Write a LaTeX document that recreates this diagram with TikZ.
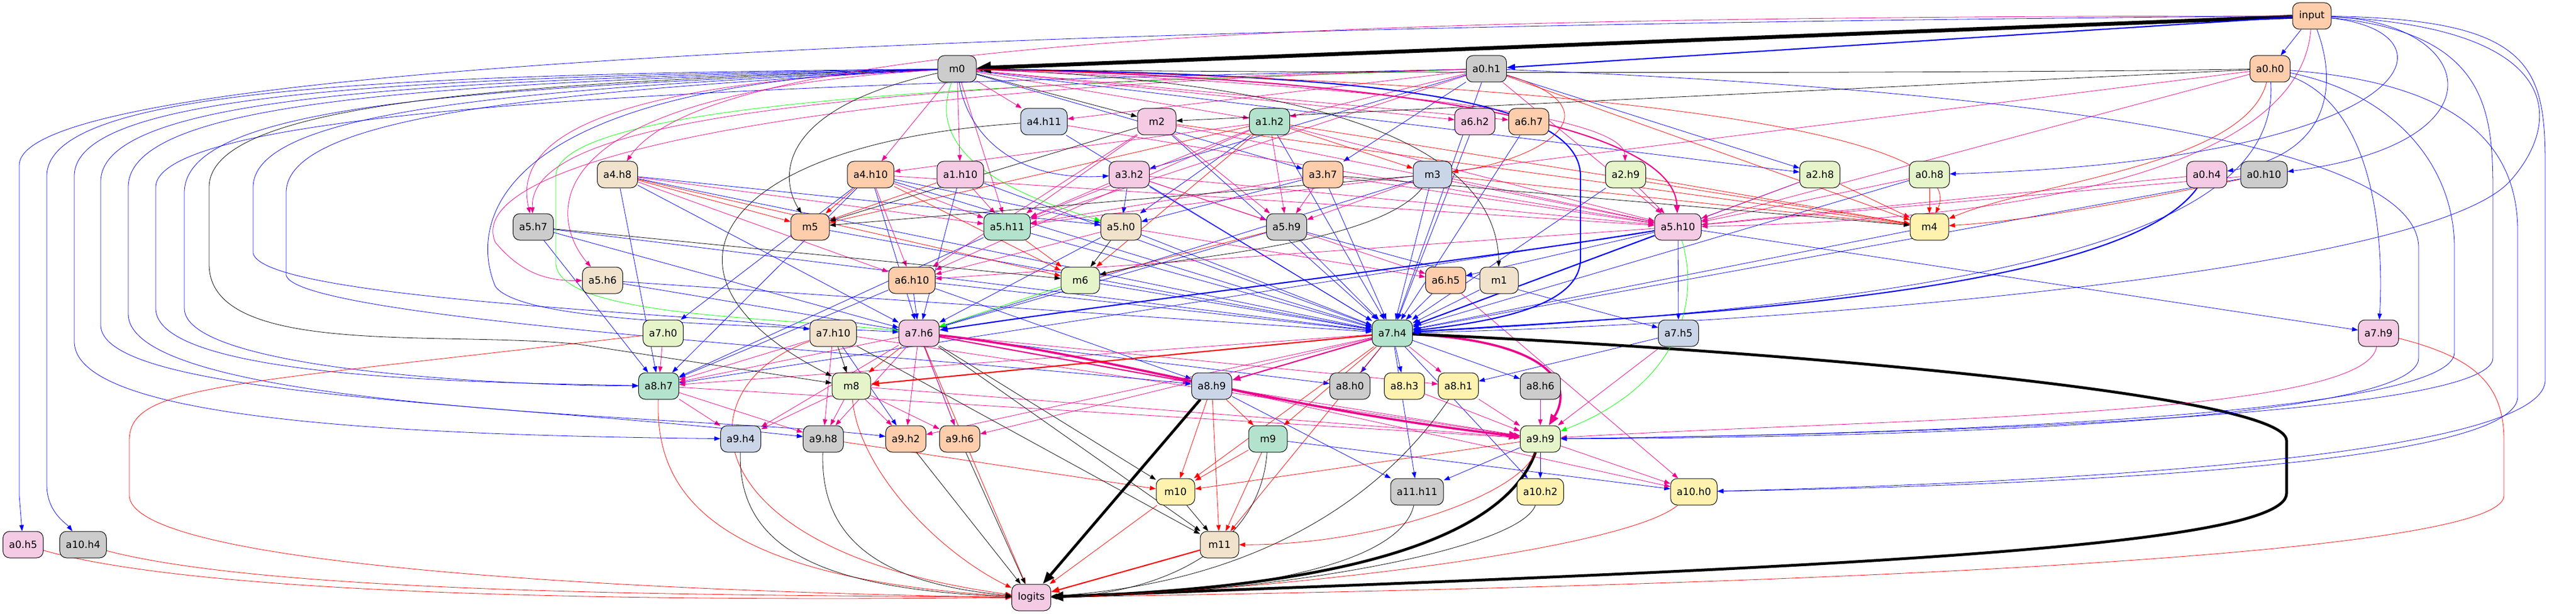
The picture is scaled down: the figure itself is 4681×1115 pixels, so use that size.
\documentclass[tikz,border=0pt]{standalone}
\usepackage{fontspec}
\setmainfont{DejaVu Sans}
\usetikzlibrary{arrows.meta}
\pgfdeclarelayer{bg}
\pgfsetlayers{bg,main}
\definecolor{fgray}{HTML}{CCCCCC}
\definecolor{fpeach}{HTML}{FDCDAC}
\definecolor{fpink}{HTML}{F4CAE4}
\definecolor{fmint}{HTML}{B3E2CD}
\definecolor{fblue}{HTML}{CBD5E8}
\definecolor{flime}{HTML}{E6F5C9}
\definecolor{fbeige}{HTML}{F1E2CC}
\definecolor{fyel}{HTML}{FFF2AE}
\definecolor{lgreen}{HTML}{00FF00}
\begin{document}
\begin{tikzpicture}[x=1pt,y=-1pt,
  nd/.style={draw=black, line width=1pt, rounded corners=12pt, minimum width=70pt, minimum height=48pt, inner xsep=11pt, inner ysep=0pt, font=\fontsize{18}{20}\selectfont},
  ar/.style={-{Triangle[length=11pt,width=8pt]}, line width=0.8pt},
  eB/.style={ar, blue},
  eM/.style={ar, magenta},
  eR/.style={ar, red},
  eK/.style={ar, black},
  eG/.style={ar, lgreen},
  w2/.style={line width=2.2pt, -{Triangle[length=15pt,width=11pt]}},
  w3m/.style={line width=4pt, -{Triangle[length=20pt,width=15pt]}},
  w3/.style={line width=5pt, -{Triangle[length=22pt,width=16pt]}},
  w4/.style={line width=7pt, -{Triangle[length=26pt,width=20pt]}}]
\useasboundingbox (0,0) rectangle (4681,1115);
% ---------- nodes ----------
\node[nd,fill=fpeach] (input) at (4201,29) {input};
\node[nd,fill=fgray] (m0) at (1739,125) {m0};
\node[nd,fill=fgray] (a0h1) at (2701,125) {a0.h1};
\node[nd,fill=fpeach] (a0h0) at (4125,125) {a0.h0};
\node[nd,fill=fblue] (a4h11) at (1897,221) {a4.h11};
\node[nd,fill=fpink] (m2) at (2102,221) {m2};
\node[nd,fill=fmint] (a1h2) at (2307,221) {a1.h2};
\node[nd,fill=fpink] (a6h2) at (2680,221) {a6.h2};
\node[nd,fill=fpeach] (a6h7) at (2778,221) {a6.h7};
\node[nd,fill=fbeige] (a4h8) at (1122,317) {a4.h8};
\node[nd,fill=fpeach] (a4h10) at (1582,317) {a4.h10};
\node[nd,fill=fpink] (a1h10) at (1745,317) {a1.h10};
\node[nd,fill=fpink] (a3h2) at (2052,317) {a3.h2};
\node[nd,fill=fpeach] (a3h7) at (2404,317) {a3.h7};
\node[nd,fill=fblue] (m3) at (2603,317) {m3};
\node[nd,fill=flime] (a2h9) at (2954,317) {a2.h9};
\node[nd,fill=flime] (a2h8) at (3307,317) {a2.h8};
\node[nd,fill=flime] (a0h8) at (3506,317) {a0.h8};
\node[nd,fill=fpink] (a0h4) at (4010,317) {a0.h4};
\node[nd,fill=fgray] (a0h10) at (4114,317) {a0.h10};
\node[nd,fill=fgray] (a5h7) at (969,412) {a5.h7};
\node[nd,fill=fpeach] (m5) at (1472,412) {m5};
\node[nd,fill=fmint] (a5h11) at (1830,412) {a5.h11};
\node[nd,fill=fbeige] (a5h0) at (2037,412) {a5.h0};
\node[nd,fill=fgray] (a5h9) at (2338,412) {a5.h9};
\node[nd,fill=fpink] (a5h10) at (3049,412) {a5.h10};
\node[nd,fill=fyel] (m4) at (3506,412) {m4};
\node[nd,fill=fbeige] (a5h6) at (1095,509) {a5.h6};
\node[nd,fill=fpeach] (a6h10) at (1657,509) {a6.h10};
\node[nd,fill=flime] (m6) at (1963,509) {m6};
\node[nd,fill=fpeach] (a6h5) at (2627,509) {a6.h5};
\node[nd,fill=fbeige] (m1) at (2724,509) {m1};
\node[nd,fill=flime] (a7h0) at (1205,605) {a7.h0};
\node[nd,fill=fbeige] (a7h10) at (1514,605) {a7.h10};
\node[nd,fill=fpink] (a7h6) at (1670,605) {a7.h6};
\node[nd,fill=fmint] (a7h4) at (2530,605) {a7.h4};
\node[nd,fill=fblue] (a7h5) at (3050,605) {a7.h5};
\node[nd,fill=fpink] (a7h9) at (4322,605) {a7.h9};
\node[nd,fill=fmint] (a8h7) at (1197,701) {a8.h7};
\node[nd,fill=flime] (m8) at (1547,701) {m8};
\node[nd,fill=fblue] (a8h9) at (2202,701) {a8.h9};
\node[nd,fill=fgray] (a8h0) at (2453,701) {a8.h0};
\node[nd,fill=fyel] (a8h3) at (2552,701) {a8.h3};
\node[nd,fill=fyel] (a8h1) at (2650,701) {a8.h1};
\node[nd,fill=fgray] (a8h6) at (2799,701) {a8.h6};
\node[nd,fill=fblue] (a9h4) at (1346,797) {a9.h4};
\node[nd,fill=fgray] (a9h8) at (1496,797) {a9.h8};
\node[nd,fill=fpeach] (a9h2) at (1646,797) {a9.h2};
\node[nd,fill=fpeach] (a9h6) at (1744,797) {a9.h6};
\node[nd,fill=fmint] (m9) at (2304,797) {m9};
\node[nd,fill=flime] (a9h9) at (2799,797) {a9.h9};
\node[nd,fill=fyel] (m10) at (2136,893) {m10};
\node[nd,fill=fgray] (a11h11) at (2575,893) {a11.h11};
\node[nd,fill=fyel] (a10h2) at (2799,893) {a10.h2};
\node[nd,fill=fyel] (a10h0) at (3078,893) {a10.h0};
\node[nd,fill=fpink] (a0h5) at (42,989) {a0.h5};
\node[nd,fill=fgray] (a10h4) at (151,989) {a10.h4};
\node[nd,fill=fbeige] (m11) at (2216,989) {m11};
\node[nd,fill=fpink] (logits) at (1874,1085) {logits};
% ---------- edges ----------
\begin{pgfonlayer}{bg}
\fill[white] (0,0) rectangle (4681,1115);
% blue straight
\foreach \sa/\ta in {input/a0h0, a0h1/a3h7, a0h1/a2h8, m0/a3h7, a0h1/a3h2, m0/a2h8,
  a4h8/a5h0, a4h10/a5h0, a3h2/a5h0, a1h2/a5h0, a3h7/a5h0,
  a5h10/a6h5, a4h10/a7h0,
  a4h8/a7h6, a5h7/a7h6, a5h6/a7h6, a4h10/a7h6, a6h10/a7h6, a5h0/a7h6, m3/a7h6, a5h9/a7h6, a1h10/a7h6,
  a0h1/a7h4, a3h2/a7h4, a3h7/a7h4, m3/a7h4, a5h9/a7h4, a5h0/a7h4, a6h5/a7h4, m1/a7h4, a2h9/a7h4,
  a2h8/a7h4, a0h8/a7h4, m4/a7h4, a0h10/a7h4, a6h2/a7h4, a6h7/a7h4, a1h2/a7h4, a4h11/a7h4,
  a5h11/a7h4, a4h10/a7h4, m6/a7h4, a6h10/a7h4, m2/a7h4, a1h10/a7h4, a4h8/a7h4, m5/a7h4,
  a5h6/a7h4, a5h7/a7h4,
  a5h10/a7h5, a5h9/a7h5, a5h10/a7h9,
  a4h8/a8h7, a5h7/a8h7, a4h10/a8h7, a5h11/a8h7, a6h10/a8h7, a5h10/a8h7,
  a6h10/a8h9, a7h6/a8h0, a7h4/a8h0, a7h4/a8h3, a7h5/a8h1, a7h4/a8h6,
  a7h10/a9h2, a7h6/a9h6,
  a7h4/a11h11, a8h9/a11h11, a9h9/a11h11, a9h9/a10h2, a7h4/a10h2, m9/a10h0}
  {\draw[eB] (\sa) -- (\ta);}
% magenta straight
\foreach \sa/\ta in {m0/a4h11, a0h1/a4h11, m0/a1h2, a0h1/a1h2, m0/a6h2, m0/a6h7, m0/a4h10, a1h2/a4h10, m0/a1h10,
  m0/a5h11, a0h1/a5h11, a1h2/a5h11, m2/a5h11, a3h2/a5h11, a3h7/a5h11, a4h10/a5h11, a1h10/a5h11, a0h0/a5h11, a4h8/a5h11,
  a3h2/a5h9, a1h2/a5h9, a3h7/a5h9, m2/a5h9, m3/a5h9,
  a0h1/a5h10, a0h0/a5h10, a2h9/a5h10, a2h8/a5h10, a0h8/a5h10, a0h4/a5h10, a0h10/a5h10, a3h2/a5h10,
  a1h2/a5h10, m3/a5h10, a3h7/a5h10, m2/a5h10, a4h10/a5h10, a4h11/a5h10,
  a4h10/a6h10, a4h8/a6h10, a5h0/a6h10, a5h10/a6h10, m2/a6h10, a1h2/a6h10,
  a5h0/a6h5, a3h2/a6h5,
  a7h0/a8h7, a7h6/a8h7, a7h10/a8h7, a7h4/a8h7,
  a7h6/a8h1, a7h4/a8h1,
  a8h7/a9h4, m8/a9h4, a7h6/a9h4,
  a8h7/a9h8, m8/a9h8, a7h6/a9h8, a7h10/a9h8,
  m8/a9h2, a7h6/a9h2, a7h4/a9h2,
  a7h6/a9h6, m8/a9h6, a7h4/a9h6,
  a8h9/a9h9, m8/a9h9, a8h7/a9h9, a8h1/a9h9, a8h3/a9h9, a8h6/a9h9, a7h5/a9h9, a7h10/a9h9,
  a9h9/a10h0, a8h9/a10h0, a6h5/a10h0}
  {\draw[eM] (\sa) -- (\ta);}
% red straight
\foreach \sa/\ta in {a1h2/m3, a2h8/m4, a0h8/m4, a1h2/m4, m3/m4, m2/m4, a2h9/m4, a0h1/m4,
  a4h8/m5, a4h10/m5, a1h10/m5, a1h2/m5,
  a4h10/m6, a5h11/m6, a1h2/m6, a5h9/m6, a4h8/m6,
  a7h6/m8, a8h9/m9, a7h4/m9,
  a8h9/m10, m9/m10, a9h9/m10, a9h8/m10, a7h4/m10,
  a8h9/m11, m9/m11, a7h4/m11, a7h6/logits}
  {\draw[eR] (\sa) -- (\ta);}
% black straight
\foreach \sa/\ta in {m0/m2, a0h0/m2, m2/m5, m3/m5, a3h7/m4, a5h0/m6, a5h7/m6,
  a7h10/m8, a7h6/m10, m10/m11, a7h6/m11, a7h10/m11, a9h2/logits, a9h6/logits}
  {\draw[eK] (\sa) -- (\ta);}
% heavy edges
\draw[eK,w4] (input) -- (m0);
\draw[eB,w2] (input) -- (a0h1);
\draw[eB,w2] (m0) .. controls (2450,135) and (2872,170) .. (2872,320) -- (2872,470) .. controls (2872,560) and (2700,585) .. (a7h4);
\draw[eB,w2] (a5h10) -- (a7h4);
\draw[eB,w2] (a5h10) .. controls (2700,470) and (2100,540) .. (a7h6);
\draw[eB,w2] (a0h4) .. controls (3850,540) and (3000,575) .. (a7h4);
\draw[eM,w3m] (a7h6) .. controls (2000,640) and (2300,740) .. (a9h9);
\draw[eM,w3m] (a7h4) .. controls (2820,620) and (2860,700) .. (a9h9);
\draw[eM,w2] (a7h6) -- (a8h9);
\draw[eM,w2] (a7h4) -- (a8h9);
\draw[eM,w2] (m0) .. controls (2500,140) and (3040,220) .. (a5h10);
\draw[eK,w3] (a7h4) .. controls (3300,640) and (4155,720) .. (4155,800) -- (4155,896) .. controls (4155,1000) and (3200,1035) .. (logits);
\draw[eK,w3] (a8h9) -- (logits);
\draw[eK,w3] (a9h9) .. controls (2740,960) and (2500,1065) .. (logits);
\draw[eR,w2] (m11) -- (logits);
\draw[eR,w2] (a7h4) -- (m8);
% left-side routes
\draw[eB] (input) .. controls (2000,45) and (35,110) .. (35,300) -- (35,900) -- (a0h5);
\draw[eB] (m0) .. controls (700,135) and (85,160) .. (85,320) -- (85,880) .. controls (85,930) and (120,950) .. (a10h4);
\draw[eB] (m0) .. controls (700,140) and (135,170) .. (135,320) -- (135,620) .. controls (135,760) and (700,790) .. (a9h4);
\draw[eB] (m0) .. controls (750,145) and (183,175) .. (183,330) -- (183,590) .. controls (183,720) and (900,730) .. (a9h8);
\draw[eB] (m0) .. controls (800,150) and (233,180) .. (233,340) -- (233,570) .. controls (233,750) and (1300,755) .. (a9h2);
\draw[eB] (a0h1) .. controls (1500,150) and (283,185) .. (283,340) -- (283,560) .. controls (283,690) and (900,695) .. (a8h7);
\draw[eB] (m0) .. controls (850,160) and (335,190) .. (335,350) -- (335,560) .. controls (335,670) and (900,700) .. (a8h7);
\draw[eK] (m0) .. controls (900,150) and (380,190) .. (380,340) -- (380,480) .. controls (380,650) and (800,600) .. (1050,625) -- (m8);
\draw[eB] (m0) .. controls (950,160) and (460,200) .. (460,340) -- (460,460) .. controls (480,545) and (1300,570) .. (a7h10);
\draw[eB] (m0) .. controls (1000,165) and (520,210) .. (520,350) -- (520,500) .. controls (540,580) and (1600,640) .. (a8h9);
\draw[eG] (a0h1) .. controls (2000,150) and (1010,170) .. (1010,320) -- (1010,480) .. controls (1020,575) and (1400,575) .. (a7h6);
\draw[eM] (m0) .. controls (1100,150) and (930,250) .. (a5h7);
\draw[eM] (a0h1) .. controls (1500,155) and (960,220) .. (a5h7);
\draw[eM] (m0) .. controls (950,170) and (1000,400) .. (a5h6);
\draw[eM] (a0h1) .. controls (1400,160) and (840,300) .. (900,440) .. controls (950,500) and (1000,510) .. (a5h6);
\draw[eB] (m0) .. controls (900,150) and (850,400) .. (900,520) .. controls (950,590) and (1400,590) .. (a7h6);
\draw[eM] (input) .. controls (2500,30) and (1300,60) .. (a4h8);
\draw[eB] (m0) .. controls (1760,250) and (1850,330) .. (a3h2);
\draw[eG] (m0) .. controls (1670,300) and (1900,370) .. (a5h0);
\draw[eK] (m0) .. controls (1400,200) and (1420,330) .. (m5);
\draw[eK] (a4h11) .. controls (1300,260) and (1150,500) .. (m8);
% other curves
\draw[eK] (a0h0) .. controls (3500,135) and (2200,132) .. (m0);
\draw[eK] (m0) .. controls (2500,150) and (2720,300) .. (m1);
\draw[eK] (m3) .. controls (2500,450) and (2100,470) .. (m6);
\draw[eM] (m0) .. controls (2400,150) and (2950,200) .. (a2h9);
\draw[eM] (input) .. controls (4180,300) and (3700,400) .. (a5h10);
\draw[eR] (a0h1) .. controls (2950,200) and (2800,290) .. (m3);
\draw[eR] (a0h10) .. controls (3900,360) and (3700,400) .. (m4);
\draw[eR] (a0h0) .. controls (4080,300) and (3700,330) .. (m4);
\draw[eR] (m0) .. controls (3000,150) and (3580,250) .. (m4);
\draw[eR] (a9h9) .. controls (2760,900) and (2500,990) .. (m11);
\draw[eM] (a7h9) .. controls (4300,760) and (3400,760) .. (a9h9);
\draw[eG] (m6) -- (a7h6);
\draw[eG] (a5h10) .. controls (3090,550) and (3050,700) .. (a9h9);
% right-side routes
\draw[eB] (input) .. controls (4250,160) and (4230,280) .. (a0h4);
\draw[eB] (input) .. controls (4500,40) and (4560,260) .. (a0h10);
\draw[eB] (input) .. controls (4480,60) and (4400,290) .. (a0h8);
\draw[eB] (input) .. controls (4600,35) and (4625,120) .. (4625,300) -- (4625,690) .. controls (4625,840) and (3600,880) .. (a10h0);
\draw[eB] (a0h0) .. controls (4450,150) and (4575,250) .. (4575,420) -- (4575,720) .. controls (4575,860) and (3500,885) .. (a10h0);
\draw[eB] (input) .. controls (4520,60) and (4530,200) .. (4530,350) -- (4530,650) .. controls (4530,760) and (3400,790) .. (a9h9);
\draw[eB] (a0h0) .. controls (4350,170) and (4460,300) .. (4460,450) -- (4460,640) .. controls (4460,760) and (3400,790) .. (a9h9);
\draw[eB] (a0h1) .. controls (3600,160) and (4395,250) .. (4395,450) -- (4395,650) .. controls (4395,770) and (3400,795) .. (a9h9);
\draw[eB] (input) .. controls (4660,50) and (4660,220) .. (4560,330) .. controls (4400,500) and (3200,590) .. (a7h4);
\draw[eB] (a0h0) .. controls (4140,380) and (3800,540) .. (a7h4);
\draw[eB] (a0h0) .. controls (4330,200) and (4330,480) .. (a7h9);
% into logits
\draw[eR] (a0h5) .. controls (400,1090) and (1300,1090) .. (logits);
\draw[eR] (a10h4) .. controls (500,1080) and (1300,1080) .. (logits);
\draw[eR] (a7h0) .. controls (400,700) and (235,700) .. (235,800) -- (235,900) .. controls (240,1050) and (1500,1080) .. (logits);
\draw[eR] (a8h7) .. controls (1190,900) and (1300,1050) .. (logits);
\draw[eR] (a7h10) .. controls (1240,700) and (1250,1000) .. (logits);
\draw[eR] (m8) .. controls (1560,850) and (1700,1000) .. (logits);
\draw[eR] (m10) -- (logits);
\draw[eR] (a10h0) .. controls (2950,1000) and (2300,1075) .. (logits);
\draw[eR] (a7h9) .. controls (4500,650) and (4550,700) .. (4550,800) -- (4550,900) .. controls (4550,1000) and (3500,1060) .. (logits);
\draw[eK] (a9h4) .. controls (1340,1000) and (1500,1070) .. (logits);
\draw[eK] (a9h8) .. controls (1490,980) and (1600,1060) .. (logits);
\draw[eK] (m9) .. controls (2290,1000) and (2100,1080) .. (logits);
\draw[eK] (a11h11) .. controls (2540,1040) and (2200,1080) .. (logits);
\draw[eK] (a10h2) .. controls (2760,1000) and (2300,1080) .. (logits);
\draw[eK] (a8h1) .. controls (2580,800) and (2400,1050) .. (logits);
\end{pgfonlayer}
\end{tikzpicture}
\end{document}
